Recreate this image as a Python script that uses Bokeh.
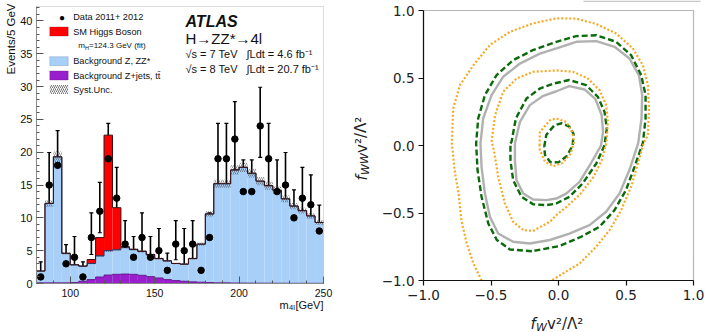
from bokeh.plotting import figure
from bokeh.models import (Range1d, FixedTicker, Label, BoxAnnotation, Whisker, TeeHead,
                          ColumnDataSource, LinearAxis)
from bokeh.layouts import row
from bokeh.embed import file_html
from bokeh.resources import INLINE

# ---------------- left panel: m4l histogram ----------------
bin_low = [80, 85, 90, 95, 100, 105, 110, 115, 120, 125, 130, 135, 140, 145, 150, 155, 160,
           165, 170, 175, 180, 185, 190, 195, 200, 205, 210, 215, 220, 225, 230, 235, 240, 245]
bin_width = 5
bg_total = [1.9, 12.2, 19.3, 4.6, 2.85, 2.65, 3.05, 4.2, 5.0, 5.15, 5.5, 5.2, 4.9, 4.4, 3.8, 3.45, 3.05,
            2.95, 3.8, 6.0, 10.6, 15.2, 15.2, 17.3, 17.7, 16.8, 15.6, 14.9, 14.2, 12.9, 11.8, 11.1, 10.3, 9.3]
bg_zjets = [0.1, 0.1, 0.1, 0.1, 0.15, 0.35, 0.6, 1.0, 1.3, 1.4, 1.45, 1.4, 1.25, 1.05, 0.85, 0.6, 0.45,
            0.35, 0.25, 0.2, 0.15, 0.1, 0.1, 0.08, 0.07, 0.06, 0.05, 0.05, 0.04, 0.04, 0.03, 0.03, 0.03, 0.03]
higgs = [0, 0, 0, 0, 0, 0, 0.6, 2.8, 17.6, 6.4, 0.1, 0, 0, 0, 0, 0, 0,
         0, 0, 0, 0, 0, 0, 0, 0, 0, 0, 0, 0, 0, 0, 0, 0, 0]
syst = [0.08, 0.5, 0.8, 0.2, 0.12, 0.11, 0.13, 0.17, 0.2, 0.21, 0.22, 0.21, 0.2, 0.18, 0.16, 0.14, 0.13,
        0.12, 0.16, 0.25, 0.42, 0.6, 0.6, 0.7, 0.7, 0.67, 0.62, 0.6, 0.57, 0.52, 0.47, 0.45, 0.42, 0.38]
data_n = [1, 15, 18, 3, 4, 1, 7, 11, 19, 13, 6, 4, 7, 4, 5, 2, 6,
          5, 6, 2, 7, 19, 19, 22, 14, 14, 24, 19, 14, 15, 10, 13, 12, 8]
data_lo = [0.17, 11.17, 13.8, 1.37, 2.09, 0.17, 4.42, 7.73, 14.7, 9.44, 3.62, 2.09, 4.42, 2.09, 2.84, 0.71, 3.62,
           2.84, 3.62, 0.71, 4.42, 14.7, 14.7, 17.4, 10.3, 10.3, 19.2, 14.7, 10.3, 11.17, 6.89, 9.44, 8.58, 5.23]
data_hi = [3.3, 19.96, 23.3, 5.92, 7.16, 3.3, 10.77, 15.42, 24.4, 17.7, 9.58, 7.16, 10.77, 7.16, 8.38, 4.64, 9.58,
           8.38, 9.58, 4.64, 10.77, 24.4, 24.4, 27.7, 18.83, 18.83, 29.9, 24.4, 18.83, 19.96, 14.27, 17.7, 16.56, 11.95]
y_ticks_left = [0, 5, 10, 15, 20, 25, 30, 35, 40]
x_ticks_left = [100, 150, 200, 250]

# ---------------- right panel: contours ----------------
orange_outer_x = [-0.57, -0.63, -0.68, -0.72, -0.74, -0.77, -0.79, -0.785, -0.78, -0.73, -0.63, -0.51, -0.36, -0.19,
                  -0.015, 0.131, 0.28, 0.427, 0.55, 0.625, 0.662, 0.67, 0.662, 0.63, 0.588, 0.538, 0.464, 0.378,
                  0.279, 0.156, 0.033, -0.05]
orange_outer_y = [-1.0, -0.874, -0.726, -0.55, -0.356, -0.18, 0.015, 0.15, 0.274, 0.447, 0.595, 0.743, 0.842, 0.904,
                  0.942, 0.94, 0.9, 0.83, 0.72, 0.595, 0.447, 0.274, 0.076, 0.015, -0.133, -0.306, -0.479, -0.627,
                  -0.75, -0.874, -0.948, -1.0]
green_outer_x = [-0.197, -0.36, -0.457, -0.52, -0.57, -0.6, -0.61, -0.595, -0.545, -0.46, -0.336, -0.19, -0.015,
                 0.131, 0.28, 0.427, 0.538, 0.613, 0.645, 0.645, 0.625, 0.563, 0.5, 0.415, 0.304, 0.168, 0.007, -0.197]
green_outer_y = [-0.783, -0.77, -0.7, -0.578, -0.38, -0.18, 0.015, 0.2, 0.373, 0.52, 0.632, 0.706, 0.768,
                 0.81, 0.817, 0.768, 0.669, 0.52, 0.373, 0.2, 0.02, -0.158, -0.33, -0.479, -0.602, -0.676, -0.745, -0.783]
gray_outer_x = [-0.212, -0.336, -0.447, -0.508, -0.545, -0.57, -0.578, -0.558, -0.496, -0.41, -0.286, -0.138, -0.015,
                0.131, 0.28, 0.415, 0.526, 0.596, 0.62, 0.615, 0.59, 0.526, 0.452, 0.353, 0.23, 0.081, -0.064, -0.212]
gray_outer_y = [-0.726, -0.713, -0.652, -0.528, -0.356, -0.158, 0.015, 0.2, 0.373, 0.509, 0.607, 0.68, 0.72,
                0.768, 0.773, 0.731, 0.644, 0.52, 0.373, 0.2, 0.015, -0.18, -0.356, -0.491, -0.59, -0.652, -0.7, -0.726]
orange_mid_x = [-0.496, -0.47, -0.41, -0.311, -0.188, -0.015, 0.107, 0.218, 0.304, 0.353, 0.366, 0.355, 0.32, 0.26,
                0.165, 0.06, -0.017, -0.064, -0.188, -0.261, -0.336, -0.397, -0.447, -0.478, -0.496]
orange_mid_y = [0.027, 0.224, 0.398, 0.496, 0.546, 0.556, 0.546, 0.496, 0.41, 0.299, 0.175, 0.02, -0.109, -0.232,
                -0.356, -0.454, -0.516, -0.565, -0.632, -0.627, -0.565, -0.43, -0.232, -0.035, 0.027]
green_mid_x = [-0.356, -0.348, -0.316, -0.237, -0.138, -0.03, 0.08, 0.205, 0.292, 0.341, 0.358, 0.34, 0.28, 0.18,
               0.081, -0.017, -0.089, -0.188, -0.274, -0.336, -0.356, -0.356]
green_mid_y = [0.015, 0.027, 0.2, 0.348, 0.422, 0.46, 0.485, 0.447, 0.36, 0.249, 0.126, 0.0, -0.133, -0.28,
               -0.38, -0.43, -0.442, -0.435, -0.38, -0.257, -0.109, 0.015]
gray_mid_x = [-0.323, -0.286, -0.212, -0.113, -0.02, 0.08, 0.193, 0.274, 0.32, 0.33, 0.315, 0.24, 0.156, 0.057,
              -0.017, -0.089, -0.188, -0.261, -0.311, -0.323, -0.323]
gray_mid_y = [0.015, 0.175, 0.299, 0.368, 0.4, 0.44, 0.415, 0.343, 0.224, 0.101, 0.0, -0.133, -0.27, -0.356,
              -0.393, -0.405, -0.4, -0.356, -0.257, -0.109, 0.015]
orange_in_x = [-0.14, -0.138, -0.064, -0.017, 0.057, 0.101, 0.115, 0.09, 0.03, -0.039, -0.1, -0.138, -0.14]
orange_in_y = [0.0, 0.1, 0.187, 0.2, 0.175, 0.101, 0.027, -0.06, -0.13, -0.153, -0.12, -0.035, 0.0]
green_in_x = [-0.106, -0.09, -0.03, 0.025, 0.08, 0.111, 0.105, 0.06, 0.0, -0.06, -0.1, -0.106]
green_in_y = [-0.01, 0.08, 0.15, 0.165, 0.14, 0.087, 0.0, -0.08, -0.125, -0.124, -0.07, -0.01]
ticks_right = [-1.0, -0.5, 0.0, 0.5, 1.0]
tick_labels_right = ["\u22121.0", "\u22120.5", "0.0", "0.5", "1.0"]

# ---------------- left figure (frame spans whole canvas, axes fixed) ----------------
X0, X1, Y0, Y1 = 80, 250, 0, 42.2
LW, LH = 345, 332
L_LEFT, L_TOP, L_W, L_H = 36, 6, 287, 277


def fx1(px):
    return X0 + (px - L_LEFT) / L_W * (X1 - X0)


def fy1(py):
    return Y1 - (py - L_TOP) / L_H * (Y1 - Y0)


p1 = figure(width=LW, height=LH, x_range=Range1d(fx1(0), fx1(LW)), y_range=Range1d(fy1(LH), fy1(0)),
            output_backend="svg", toolbar_location=None, x_axis_location=None, y_axis_location=None,
            min_border=0, title=None)
p1.xgrid.visible = False
p1.ygrid.visible = False
p1.outline_line_color = None
p1.background_fill_color = "white"
p1.border_fill_color = "white"

lefts = bin_low
rights = [b + bin_width for b in bin_low]
centers = [b + bin_width / 2 for b in bin_low]
tot = [b + h for b, h in zip(bg_total, higgs)]

p1.quad(left=lefts, right=rights, bottom=0, top=bg_total, fill_color="#a7cff7", line_alpha=0)
p1.quad(left=lefts, right=rights, bottom=0, top=bg_zjets, fill_color="#9a1fcc", line_alpha=0)
sig_idx = [i for i, h in enumerate(higgs) if h > 0]
p1.quad(left=[lefts[i] for i in sig_idx], right=[rights[i] for i in sig_idx],
        bottom=[bg_total[i] for i in sig_idx], top=[tot[i] for i in sig_idx],
        fill_color="#ff0000", line_alpha=0)
p1.quad(left=lefts, right=rights, bottom=[b - s for b, s in zip(bg_total, syst)],
        top=[b + s for b, s in zip(bg_total, syst)], fill_alpha=0, line_alpha=0,
        hatch_pattern="/", hatch_color="#3a3a3a", hatch_scale=4, hatch_weight=0.7, hatch_alpha=0.8)
p1.step(x=lefts + [X1], y=bg_total + [bg_total[-1]], mode="after", line_color="#2b3a67", line_width=1)
p1.step(x=lefts + [X1], y=tot + [tot[-1]], mode="after", line_color="#3a1010", line_width=1)
p1.step(x=lefts + [X1], y=bg_zjets + [bg_zjets[-1]], mode="after", line_color="#5a1080", line_width=0.8)

src = ColumnDataSource(dict(x=centers, y=data_n, lo=data_lo, hi=data_hi))
p1.add_layout(Whisker(source=src, base="x", lower="lo", upper="hi", dimension="height",
                      line_color="black", line_width=1.6,
                      upper_head=TeeHead(size=4, line_color="black", line_width=1.2),
                      lower_head=TeeHead(size=4, line_color="black", line_width=1.2)))
p1.scatter(x="x", y="y", source=src, size=6.5, color="black")

# frame
p1.add_layout(BoxAnnotation(left=X0, right=X1, bottom=Y0, top=Y1, fill_alpha=0,
                            line_color="#8a8a8a", line_width=1))

xax1 = LinearAxis(fixed_location=Y0, bounds=(X0, X1),
                  ticker=FixedTicker(ticks=x_ticks_left, minor_ticks=list(range(80, 251, 10))))
yax1 = LinearAxis(fixed_location=X0, bounds=(Y0, Y1),
                  ticker=FixedTicker(ticks=y_ticks_left, minor_ticks=list(range(0, 43))))
for ax in (xax1, yax1):
    ax.major_tick_in = 7
    ax.major_tick_out = 0
    ax.minor_tick_in = 3
    ax.minor_tick_out = 0
    ax.axis_line_color = "#8a8a8a"
    ax.major_tick_line_color = "#555555"
    ax.minor_tick_line_color = "#555555"
    ax.major_label_text_font = "Liberation Sans"
    ax.major_label_text_color = "#111111"
xax1.major_label_text_font_size = "10.5px"
yax1.major_label_text_font_size = "11px"
xax1.major_label_standoff = 5
yax1.major_label_standoff = 4
p1.add_layout(xax1, "below")
p1.add_layout(yax1, "left")


def lab1(px, py, text, size, style="normal", align="left", angle=0, baseline="middle", color="#111111"):
    p1.add_layout(Label(x=fx1(px), y=fy1(py), text=text, text_font="Liberation Sans",
                        text_font_size=size, text_font_style=style, text_align=align,
                        text_baseline=baseline, angle=angle, text_color=color))


# axis titles
lab1(10, 3, "Events/5 GeV", "11.5px", align="right", angle=1.5708)
lab1(279, 304, "m", "11px")
lab1(288.5, 307, "4l", "7.5px")
lab1(323, 304, "[GeV]", "11px", align="right")

# ATLAS block
lab1(185, 21, "ATLAS", "16px", style="bold italic")
lab1(185, 38, "H\u2192ZZ*\u21924l", "15px")
lab1(185, 53, "\u221as = 7 TeV", "11px")
lab1(246, 53, "\u222bLdt = 4.6 fb\u207b\u00b9", "11px")
lab1(185, 68.5, "\u221as = 8 TeV", "11px")
lab1(246, 68.5, "\u222bLdt = 20.7 fb\u207b\u00b9", "11px")

# legend
LEG_T = 72.7
lab1(58.5, 17, "\u25cf", "10px", color="black")
lab1(LEG_T, 16.7, "Data 2011+ 2012", "9.2px")
lab1(LEG_T, 31, "SM Higgs Boson", "9.2px")
lab1(77.7, 45.3, "m", "8px")
lab1(84.5, 47.5, "H", "5.5px")
lab1(88.5, 45.3, "=124.3 GeV (fit)", "8px")
lab1(LEG_T, 60.7, "Background Z, ZZ*", "9.2px")
lab1(LEG_T, 75, "Background Z+jets, tt\u0304", "9.2px")
lab1(LEG_T, 89, "Syst.Unc.", "9.2px")


def swatch(ytop, ybot, **kw):
    p1.add_layout(BoxAnnotation(left=fx1(49.3), right=fx1(67.7), top=fy1(ytop), bottom=fy1(ybot),
                                level="overlay", **kw))


swatch(26.5, 35.5, fill_color="#ff0000", fill_alpha=1, line_color="#7a1010", line_width=1)
swatch(56.2, 65.2, fill_color="#a7cff7", fill_alpha=1, line_color="#5a7aa8", line_width=1)
swatch(70.5, 79.5, fill_color="#9a1fcc", fill_alpha=1, line_color="#5a1080", line_width=1)
swatch(84.5, 93.5, fill_alpha=0, line_alpha=0, hatch_pattern="/", hatch_color="#3a3a3a",
       hatch_scale=4, hatch_weight=0.7)

# ---------------- right figure ----------------
R_OFF = LW
RW, RH = 712 - R_OFF, 332
R_LEFT, R_TOP, R_W, R_H = 78, 10, 270, 270


def fx2(px):
    return -1 + (px - R_OFF - R_LEFT) / R_W * 2


def fy2(py):
    return 1 - (py - R_TOP) / R_H * 2


p2 = figure(width=RW, height=RH, x_range=Range1d(fx2(R_OFF), fx2(712)), y_range=Range1d(fy2(RH), fy2(0)),
            output_backend="svg", toolbar_location=None, x_axis_location=None, y_axis_location=None,
            min_border=0, title=None)
p2.xgrid.visible = False
p2.ygrid.visible = False
p2.outline_line_color = None
p2.background_fill_color = "white"
p2.border_fill_color = "white"

GRAY = "#a9a9a9"
GREEN = "#0b6a0b"
ORANGE = "#f9a825"
for xs, ys in ((gray_outer_x, gray_outer_y), (gray_mid_x, gray_mid_y)):
    p2.line(xs, ys, line_color=GRAY, line_width=2.4, line_alpha=0.9)
for xs, ys in ((green_outer_x, green_outer_y), (green_mid_x, green_mid_y), (green_in_x, green_in_y)):
    p2.line(xs, ys, line_color=GREEN, line_width=2.4, line_dash="6 3")
for xs, ys in ((orange_outer_x, orange_outer_y), (orange_mid_x, orange_mid_y), (orange_in_x, orange_in_y)):
    p2.line(xs, ys, line_color=ORANGE, line_width=2.2, line_dash="2 2")

p2.add_layout(BoxAnnotation(left=-1, right=1, bottom=-1, top=1, fill_alpha=0,
                            line_color="#111111", line_width=1.2))

xax2 = LinearAxis(fixed_location=-1, bounds=(-1, 1))
yax2 = LinearAxis(fixed_location=-1, bounds=(-1, 1))
for ax in (xax2, yax2):
    ax.ticker = FixedTicker(ticks=ticks_right, minor_ticks=[])
    ax.major_label_overrides = {t: s for t, s in zip(ticks_right, tick_labels_right)}
    ax.major_tick_in = 0
    ax.major_tick_out = 5
    ax.minor_tick_in = 0
    ax.minor_tick_out = 0
    ax.axis_line_color = "#111111"
    ax.axis_line_width = 1.2
    ax.major_tick_line_color = "#111111"
    ax.major_tick_line_width = 1.2
    ax.major_label_text_font = "DejaVu Sans"
    ax.major_label_text_font_size = "13.5px"
    ax.major_label_text_color = "#222222"
    ax.major_label_standoff = 4
p2.add_layout(xax2, "below")
p2.add_layout(yax2, "left")

# faint strip at the very top right (as in the source image)
p2.add_layout(BoxAnnotation(left=fx2(583), right=fx2(700), top=fy2(0), bottom=fy2(1.5),
                            fill_color="#c8c8c8", fill_alpha=1, line_alpha=0))


def lab2(px, py, text, size, style="normal", angle=0, baseline="alphabetic"):
    p2.add_layout(Label(x=fx2(px), y=fy2(py), text=text, text_font="DejaVu Sans",
                        text_font_size=size, text_font_style=style, text_align="left",
                        text_baseline=baseline, angle=angle, text_color="#222222"))


# x label  f_W v^2/Lambda^2
lab2(530, 323.5, "f", "15px", style="italic")
lab2(535.5, 326.5, "W", "11px", style="italic")
lab2(546.5, 323.5, " v\u00b2/\u039b\u00b2", "15px")
# y label  f_WW v^2/Lambda^2 (rotated)
A = 1.5708
lab2(361, 180, "f", "15px", style="italic", angle=A)
lab2(364.5, 174.5, "WW", "11px", style="italic", angle=A)
lab2(361, 152.5, " v\u00b2/\u039b\u00b2", "15px", angle=A)

layout = row(p1, p2)
open("out.html", "w").write(file_html(layout, INLINE))
